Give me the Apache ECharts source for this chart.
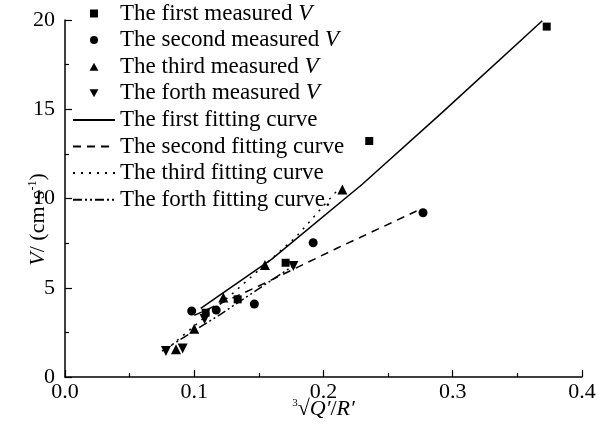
<!DOCTYPE html>
<html>
<head>
<meta charset="utf-8">
<script src="https://cdn.jsdelivr.net/npm/echarts@6/dist/echarts.min.js"></script>
<style>
  html, body { margin: 0; padding: 0; background: #fff; }
  #chart { width: 610px; height: 438px; }
</style>
</head>
<body>
<div id="chart"></div>
<script>
// measured points [x, V]
const measured1 = [[0.1088, 3.60], [0.1336, 4.35], [0.1707, 6.40], [0.2354, 13.22], [0.3727, 19.63]];
const measured2 = [[0.098, 3.70], [0.117, 3.75], [0.1465, 4.09], [0.192, 7.52], [0.277, 9.20]];
const measured3 = [[0.0859, 1.55], [0.100, 2.70], [0.1225, 4.46], [0.1547, 6.27], [0.2146, 10.50]];
const measured4 = [[0.0781, 1.46], [0.091, 1.60], [0.108, 3.25], [0.1767, 6.22]];

// fitting curves
const fit1 = [[0.105, 3.85], [0.16, 6.6], [0.23, 10.8], [0.29, 14.7], [0.3693, 19.96]];
const fit2 = [[0.1, 3.45], [0.15, 5.1], [0.21, 7.2], [0.272, 9.3]];
const fit3 = [[0.082, 1.75], [0.13, 4.7], [0.179, 7.86], [0.210, 10.4]];
const fit4 = [[0.075, 1.45], [0.12, 3.5], [0.178, 6.3]];

const seriesNames = [
  'The first measured V', 'The second measured V', 'The third measured V', 'The forth measured V',
  'The first fitting curve', 'The second fitting curve', 'The third fitting curve', 'The forth fitting curve.'
];

const font = 'Liberation Serif';
const squarePath = 'path://M0,0L10,0L10,10L0,10Z';
const circlePath = 'path://M5,0A5,5,0,1,1,4.99,0Z';
const upPath = 'path://M5,0L10,9L0,9Z';
const downPath = 'path://M0,0L10,0L5,9Z';

const chart = echarts.init(document.getElementById('chart'), null, { renderer: 'canvas' });

function scatter(name, data, symbol, size, rotate) {
  return {
    name: name,
    type: 'scatter',
    data: data,
    symbol: symbol,
    symbolSize: size,
    symbolRotate: rotate || 0,
    itemStyle: { color: '#000', opacity: 1 },
    z: 5
  };
}

function curve(name, data, type) {
  return {
    name: name,
    type: 'line',
    data: data,
    symbol: 'none',
    smooth: false,
    lineStyle: { color: '#000', width: 1.5, type: type },
    itemStyle: { color: 'rgba(0,0,0,0)', borderWidth: 0 }
  };
}

const legendIcons = [squarePath, circlePath, upPath, downPath];

const option = {
  animation: false,
  backgroundColor: '#fff',
  grid: { left: 65, right: 28, top: 20, bottom: 61, outerBoundsMode: 'none' },
  legend: {
    orient: 'vertical',
    left: 72,
    top: 2,
    padding: 0,
    itemWidth: 42,
    itemHeight: 8,
    itemGap: 3.6,
    symbolKeepAspect: true,
    data: seriesNames.map((name, i) => i < 4
      ? { name: name, icon: legendIcons[i], itemStyle: { color: '#000', opacity: 1 } }
      : { name: name, itemStyle: { opacity: 0 } }),
    textStyle: {
      fontFamily: font, fontSize: 23, color: '#000', lineHeight: 23,
      rich: {
        n: { fontFamily: font, fontSize: 23, color: '#000' },
        i: { fontFamily: font, fontSize: 23, color: '#000', fontStyle: 'italic' }
      }
    },
    formatter: function (name) {
      if (name.endsWith(' V')) {
        return '{n|' + name.slice(0, -2) + ' }{i|V}';
      }
      return '{n|' + name + '}';
    }
  },
  xAxis: {
    type: 'value',
    min: 0,
    max: 0.4,
    interval: 0.1,
    name: '{sup|3}{n|√}{i|Q′}{n|/}{i|R′}',
    nameLocation: 'middle',
    nameGap: 21,
    nameMoveOverlap: false,
    nameTextStyle: {
      rich: {
        n: { fontFamily: font, fontSize: 22, color: '#000' },
        i: { fontFamily: font, fontSize: 22, color: '#000', fontStyle: 'italic' },
        sup: { fontFamily: font, fontSize: 11, color: '#000', verticalAlign: 'top' }
      }
    },
    axisLine: { lineStyle: { color: '#000', width: 1.5 } },
    axisTick: { inside: true, length: 7, lineStyle: { color: '#000', width: 1.2 } },
    minorTick: { show: true, splitNumber: 2, length: 4, lineStyle: { color: '#000', width: 1.2 } },
    splitLine: { show: false },
    axisLabel: {
      fontFamily: font, fontSize: 22, color: '#000', margin: 4,
      formatter: v => v.toFixed(1)
    }
  },
  yAxis: {
    type: 'value',
    min: 0,
    max: 20,
    interval: 5,
    name: '{i|V}{n|/ (cm·s}{sup|-1}{n|)}',
    nameLocation: 'middle',
    nameGap: 16,
    nameRotate: 90,
    nameMoveOverlap: false,
    nameTextStyle: {
      padding: [0, 42, 0, 0],
      rich: {
        n: { fontFamily: font, fontSize: 22, color: '#000' },
        i: { fontFamily: font, fontSize: 22, color: '#000', fontStyle: 'italic' },
        sup: { fontFamily: font, fontSize: 12, color: '#000', verticalAlign: 'top' }
      }
    },
    axisLine: { show: true, lineStyle: { color: '#000', width: 1.5 } },
    axisTick: { show: true, inside: true, length: 7, lineStyle: { color: '#000', width: 1.2 } },
    minorTick: { show: true, splitNumber: 2, length: 4, lineStyle: { color: '#000', width: 1.2 } },
    splitLine: { show: false },
    axisLabel: { fontFamily: font, fontSize: 22, color: '#000', margin: 10 }
  },
  series: [
    scatter(seriesNames[0], measured1, 'rect', 8),
    scatter(seriesNames[1], measured2, 'circle', 9),
    scatter(seriesNames[2], measured3, 'triangle', 10),
    scatter(seriesNames[3], measured4, 'triangle', 10, 180),
    curve(seriesNames[4], fit1, 'solid'),
    curve(seriesNames[5], fit2, [8, 6]),
    curve(seriesNames[6], fit3, [2, 6]),
    curve(seriesNames[7], fit4, [9, 3, 2, 3, 2, 3])
  ]
};

chart.setOption(option);
</script>
</body>
</html>
